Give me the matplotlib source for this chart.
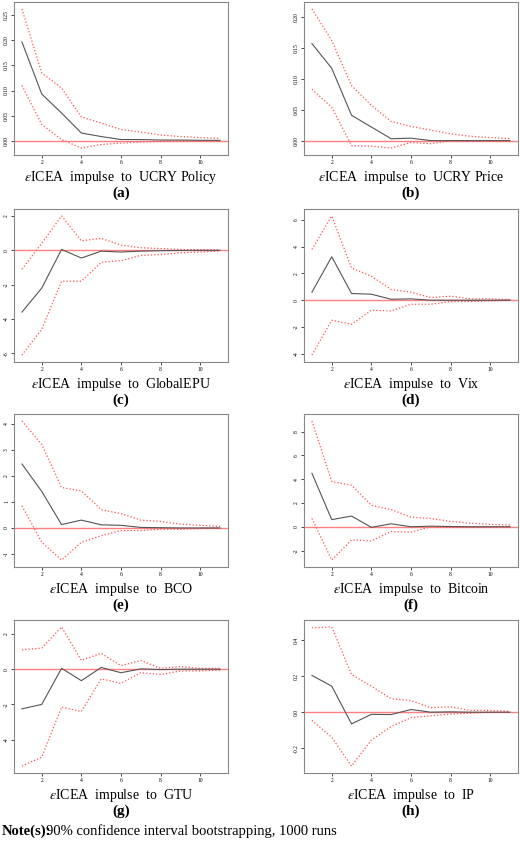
import matplotlib
matplotlib.use('Agg')
import matplotlib.pyplot as plt

plt.rcParams['font.family'] = ['Liberation Serif', 'DejaVu Serif']
plt.rcParams['mathtext.fontset'] = 'stix'

x = list(range(1, 12))

# Данные по панелям: (среднее, верхняя граница, нижняя граница)
a_mid = [0.197, 0.093, 0.055, 0.015, 0.008, 0.002, 0.002, 0.001, 0.001, 0.0005, 0.0003]
a_up = [0.263, 0.135, 0.105, 0.047, 0.035, 0.022, 0.017, 0.011, 0.008, 0.006, 0.004]
a_lo = [0.11, 0.032, 0.002, -0.015, -0.008, -0.005, -0.003, -0.002, -0.001, -0.001, -0.001]

b_mid = [0.157, 0.117, 0.041, 0.022, 0.003, 0.004, 0.0, 0.0, 0.0, 0.0, 0.0]
b_up = [0.213, 0.162, 0.089, 0.057, 0.031, 0.023, 0.017, 0.011, 0.007, 0.005, 0.003]
b_lo = [0.083, 0.054, -0.008, -0.009, -0.012, -0.003, -0.005, 0.0, -0.001, -0.001, -0.001]

c_mid = [-3.6, -2.2, 0.05, -0.45, -0.05, -0.1, -0.05, -0.02, -0.01, 0.0, 0.0]
c_up = [-1.1, 0.4, 2.0, 0.55, 0.7, 0.3, 0.15, 0.1, 0.05, 0.03, 0.02]
c_lo = [-6.1, -4.6, -1.8, -1.8, -0.7, -0.6, -0.3, -0.25, -0.15, -0.1, -0.05]

d_mid = [0.6, 3.25, 0.5, 0.45, 0.07, 0.1, 0.0, 0.0, 0.0, 0.0, 0.0]
d_up = [3.8, 6.3, 2.4, 1.8, 0.8, 0.6, 0.2, 0.3, 0.1, 0.1, 0.05]
d_lo = [-4.1, -1.5, -1.8, -0.75, -0.8, -0.3, -0.3, -0.1, -0.1, -0.05, 0.0]

e_mid = [2.45, 1.4, 0.13, 0.3, 0.12, 0.1, 0.02, 0.01, 0.0, 0.0, 0.0]
e_up = [4.1, 3.2, 1.55, 1.42, 0.7, 0.55, 0.3, 0.25, 0.15, 0.1, 0.06]
e_lo = [0.85, -0.55, -1.23, -0.55, -0.3, -0.1, -0.1, -0.05, -0.05, -0.02, 0.0]

f_mid = [4.5, 0.6, 0.9, -0.05, 0.25, 0.0, 0.05, 0.02, 0.0, 0.0, 0.0]
f_up = [8.9, 3.8, 3.5, 1.8, 1.45, 0.8, 0.7, 0.45, 0.3, 0.2, 0.15]
f_lo = [0.7, -2.8, -1.1, -1.2, -0.4, -0.45, 0.0, -0.05, -0.05, 0.0, 0.0]

g_mid = [-2.25, -2.0, 0.05, -0.65, 0.1, -0.2, 0.02, -0.02, 0.0, 0.0, 0.0]
g_up = [1.1, 1.2, 2.4, 0.5, 0.9, 0.2, 0.5, 0.05, 0.15, 0.05, 0.05]
g_lo = [-5.5, -5.0, -2.15, -2.4, -0.55, -0.8, -0.2, -0.3, -0.1, -0.1, -0.05]

h_mid = [0.205, 0.145, -0.065, -0.012, -0.013, 0.015, 0.0, 0.002, 0.0, 0.0, 0.0]
h_up = [0.47, 0.475, 0.21, 0.145, 0.075, 0.065, 0.025, 0.03, 0.01, 0.01, 0.005]
h_lo = [-0.045, -0.14, -0.3, -0.155, -0.08, -0.03, -0.02, -0.01, -0.005, 0.0, 0.0]

names = ['UCRY Policy', 'UCRY Price', 'GlobalEPU', 'Vix', 'BCO', 'Bitcoin', 'GTU', 'IP']
letters = ['a', 'b', 'c', 'd', 'e', 'f', 'g', 'h']
series = [(a_mid, a_up, a_lo), (b_mid, b_up, b_lo), (c_mid, c_up, c_lo), (d_mid, d_up, d_lo),
          (e_mid, e_up, e_lo), (f_mid, f_up, f_lo), (g_mid, g_up, g_lo), (h_mid, h_up, h_lo)]
yticks = [[0.0, 0.05, 0.10, 0.15, 0.20, 0.25], [0.0, 0.05, 0.10, 0.15, 0.20],
          [-6, -4, -2, 0, 2], [-4, -2, 0, 2, 4, 6], [-1, 0, 1, 2, 3, 4],
          [-2, 0, 2, 4, 6, 8], [-4, -2, 0, 2], [-0.2, 0.0, 0.2, 0.4]]
yfmt = ['%.2f', '%.2f', '%d', '%d', '%d', '%d', '%d', '%.1f']

W, H = 520, 841
fig = plt.figure(figsize=(W / 100, H / 100), dpi=100)

lefts = [14, 304]
tops = [2, 209, 414, 620]
aw, ah = 214, 153

for i in range(8):
    r, c = divmod(i, 2)
    ax = fig.add_axes([lefts[c] / W, 1 - (tops[r] + ah) / H, aw / W, ah / H])
    mid, up, lo = series[i]
    ax.axhline(0, color='#ff8080', lw=1.0)
    ax.plot(x, up, color='#ff5050', ls=':', lw=0.9)
    ax.plot(x, lo, color='#ff5050', ls=':', lw=0.9)
    ax.plot(x, mid, color='#555555', lw=0.8)
    ax.set_xlim(0.6, 11.4)
    ax.set_xticks([2, 4, 6, 8, 10])
    ax.set_yticks(yticks[i])
    ax.set_yticklabels([yfmt[i] % v for v in yticks[i]], rotation=90, va='center')
    ax.tick_params(labelsize=4, length=2, width=0.5, pad=1.5)
    for s in ax.spines.values():
        s.set_color('#888888')
        s.set_linewidth(0.8)
    cx = (lefts[c] + aw / 2) / W
    fig.text(cx, 1 - (tops[r] + ah + 22) / H, r'$\varepsilon$ICEA  impulse  to  ' + names[i],
             ha='center', va='center', fontsize=10)
    fig.text(cx, 1 - (tops[r] + ah + 38) / H, '(' + letters[i] + ')',
             ha='center', va='center', fontsize=11, fontweight='bold')

note = fig.text(2 / W, 1 - 831 / H, 'Note(s):', ha='left', va='center',
                fontsize=10.5, fontweight='bold')
fig.text(46 / W, 1 - 831 / H, '90% confidence interval bootstrapping, 1000 runs',
         ha='left', va='center', fontsize=10.5)

fig.savefig('out.png', dpi=100)
